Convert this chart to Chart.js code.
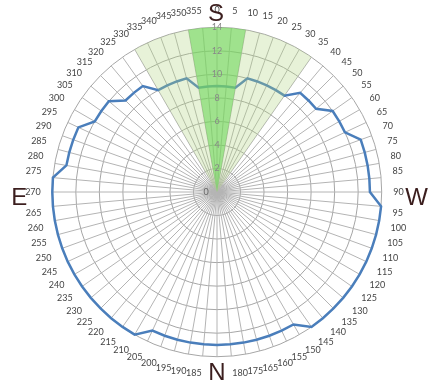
<!DOCTYPE html>
<html>
<head>
<meta charset="utf-8">
<script src="https://cdn.jsdelivr.net/npm/chart.js@4"></script>
<style>
  html, body { margin: 0; padding: 0; background: #fff; }
  .chart-container { position: relative; width: 431px; height: 386px; }
</style>
</head>
<body>
<div class="chart-container"><canvas id="windChart"></canvas></div>
<script>
// 方位刻度 (每 5 度)
const angleLabels = [
  '0','5','10','15','20','25','30','35','40','45','50','55',
  '60','65','70','75','80','85','90','95','100','105','110','115',
  '120','125','130','135','140','145','150','155','160','165','175','180',
  '','185','190','195','200','205','210','215','220','225','230','235',
  '240','245','250','255','260','265','270','275','280','285','290','295',
  '300','305','310','315','320','325','330','335','340','345','350','355'
];

// 藍線數值
const lineValues = [
  9, 9, 9, 10, 10, 10, 10, 10, 11, 11, 11, 12,
  12, 12, 13, 13, 13, 13, 13, 14, 14, 14, 14, 14,
  14, 14, 14, 14, 14, 14, 13, 13, 13, 13, 13, 13,
  13, 13, 13, 13, 13, 13, 14, 14, 14, 14, 14, 14,
  14, 14, 14, 14, 14, 14, 14, 14, 13, 13, 13, 13,
  12, 12, 12, 11, 11, 11, 10, 10, 10, 10, 9, 9
];

// 淺綠扇形 (330 - 35)
const wideSector = [
  14, 14, 14, 14, 14, 14, 14, 14, 0, 0, 0, 0,
  0, 0, 0, 0, 0, 0, 0, 0, 0, 0, 0, 0,
  0, 0, 0, 0, 0, 0, 0, 0, 0, 0, 0, 0,
  0, 0, 0, 0, 0, 0, 0, 0, 0, 0, 0, 0,
  0, 0, 0, 0, 0, 0, 0, 0, 0, 0, 0, 0,
  0, 0, 0, 0, 0, 0, 14, 14, 14, 14, 14, 14
];

// 深綠扇形 (350 - 10)
const narrowSector = [
  14, 14, 14, 0, 0, 0, 0, 0, 0, 0, 0, 0,
  0, 0, 0, 0, 0, 0, 0, 0, 0, 0, 0, 0,
  0, 0, 0, 0, 0, 0, 0, 0, 0, 0, 0, 0,
  0, 0, 0, 0, 0, 0, 0, 0, 0, 0, 0, 0,
  0, 0, 0, 0, 0, 0, 0, 0, 0, 0, 0, 0,
  0, 0, 0, 0, 0, 0, 0, 0, 0, 0, 14, 14
];

const radialTicks = [0, 2, 4, 6, 8, 10, 12, 14];

// 東南西北字樣
const compassPlugin = {
  id: 'compass',
  afterDraw(chart) {
    const s = chart.scales.r;
    const ctx = chart.ctx;
    const cx = s.xCenter, cy = s.yCenter, R = s.drawingArea;
    ctx.save();
    // 中心的 0
    ctx.font = '9px Lato';
    ctx.fillStyle = '#666';
    ctx.textAlign = 'center';
    ctx.textBaseline = 'middle';
    ctx.fillText(String(radialTicks[0]), cx - 11, cy - s.getDistanceFromCenterForValue(0));
    ctx.font = '24px "Liberation Sans"';
    ctx.fillStyle = '#3b1e1e';
    ctx.textBaseline = 'alphabetic';
    ctx.fillText('S', cx - 1, cy - R - 6);
    ctx.fillText('N', cx, cy + R + 23);
    ctx.fillText('E', cx - R - 33, cy + 13);
    ctx.fillText('W', cx + R + 35, cy + 13);
    ctx.restore();
  }
};

new Chart(document.getElementById('windChart').getContext('2d'), {
  type: 'radar',
  data: {
    labels: angleLabels,
    datasets: [
      {
        data: narrowSector,
        backgroundColor: 'rgba(110, 215, 90, 0.6)',
        borderWidth: 0,
        pointRadius: 0,
        fill: true
      },
      {
        data: wideSector,
        backgroundColor: 'rgba(175, 212, 125, 0.3)',
        borderWidth: 0,
        pointRadius: 0,
        fill: true
      },
      {
        data: lineValues,
        borderColor: '#4a7ebb',
        borderWidth: 2.5,
        pointRadius: 0,
        fill: false,
        tension: 0
      }
    ]
  },
  options: {
    responsive: true,
    maintainAspectRatio: false,
    animation: false,
    layout: { padding: { left: 3, right: 0, top: 6, bottom: 6 } },
    plugins: {
      legend: { display: false },
      tooltip: { enabled: false }
    },
    scales: {
      r: {
        min: radialTicks[0],
        max: radialTicks[radialTicks.length - 1],
        ticks: {
          stepSize: 2,
          showLabelBackdrop: false,
          color: '#888',
          font: { size: 9, family: 'Lato' },
          z: 1
        },
        grid: { color: '#a6a6a6', lineWidth: 1, circular: true },
        angleLines: { color: '#b4b4b4', lineWidth: 1 },
        pointLabels: {
          color: '#444',
          padding: 5,
          backdropPadding: 0,
          font: { size: 9, family: 'Lato' }
        }
      }
    }
  },
  plugins: [compassPlugin]
});
</script>
</body>
</html>
